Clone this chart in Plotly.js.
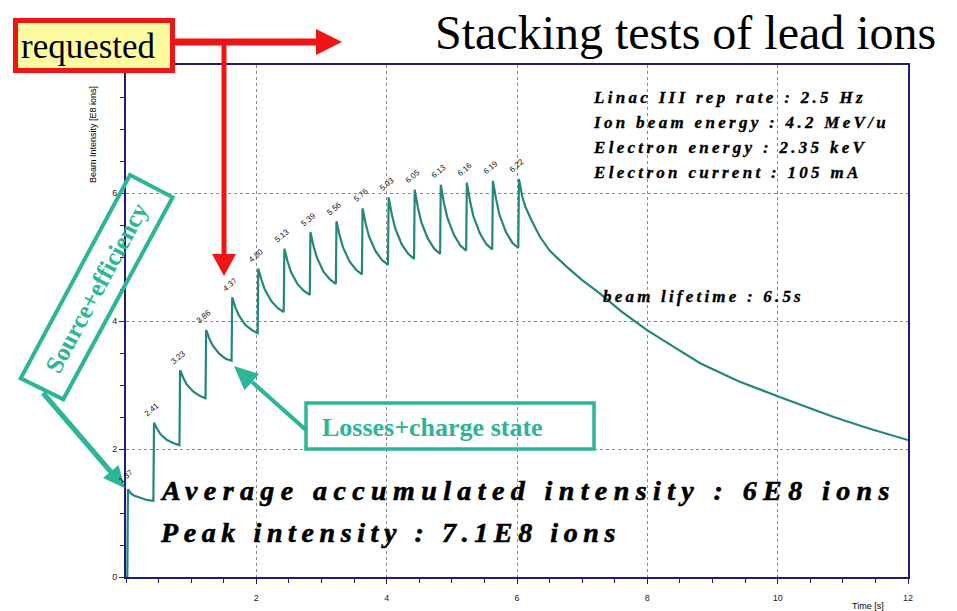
<!DOCTYPE html>
<html>
<head>
<meta charset="utf-8">
<script src="https://cdn.plot.ly/plotly-3.0.1.min.js"></script>
<style>html,body{margin:0;padding:0;background:#fff;}#chart{width:957px;height:611px;}</style>
</head>
<body>
<div id="chart"></div>
<script>
// ---- data ----
const timeS = [0, 0.02,
  0.03,0.08,0.13,0.23,0.33,0.42,
  0.43,0.48,0.53,0.63,0.73,0.82,
  0.83,0.88,0.93,1.03,1.13,1.22,
  1.23,1.28,1.33,1.43,1.53,1.62,
  1.63,1.68,1.73,1.83,1.93,2.02,
  2.03,2.08,2.13,2.23,2.33,2.42,
  2.43,2.48,2.53,2.63,2.73,2.82,
  2.83,2.88,2.93,3.03,3.13,3.22,
  3.23,3.28,3.33,3.43,3.53,3.62,
  3.63,3.68,3.73,3.83,3.93,4.02,
  4.03,4.08,4.13,4.23,4.33,4.42,
  4.43,4.48,4.53,4.63,4.73,4.82,
  4.83,4.88,4.93,5.03,5.13,5.22,
  5.23,5.28,5.33,5.43,5.53,5.62,
  5.63,5.68,5.73,5.83,5.93,6.02,
  6.03,6.08,6.13,6.23,6.35,6.5,6.76,7.0,7.27,7.6,7.99,8.4,8.81,9.4,10.01,10.86,11.4,12.0];
const intensityE8 = [0, 0,
  1.37,1.30,1.27,1.23,1.20,1.19,
  2.41,2.31,2.23,2.14,2.09,2.06,
  3.23,3.11,3.01,2.90,2.83,2.79,
  3.86,3.72,3.62,3.49,3.41,3.38,
  4.37,4.21,4.09,3.94,3.86,3.81,
  4.82,4.64,4.49,4.31,4.20,4.14,
  5.13,4.93,4.77,4.58,4.47,4.41,
  5.39,5.16,4.99,4.77,4.65,4.58,
  5.56,5.33,5.15,4.93,4.80,4.73,
  5.76,5.51,5.32,5.09,4.95,4.88,
  5.93,5.66,5.45,5.20,5.05,4.97,
  6.05,5.77,5.55,5.29,5.13,5.05,
  6.13,5.84,5.62,5.35,5.18,5.10,
  6.16,5.87,5.64,5.37,5.20,5.12,
  6.19,5.90,5.66,5.39,5.22,5.14,
  6.22,5.95,5.78,5.56,5.32,5.10,4.85,4.64,4.43,4.15,3.86,3.60,3.34,3.06,2.82,2.50,2.32,2.14];
const peakTimes  = [0.03,0.43,0.83,1.23,1.63,2.03,2.43,2.83,3.23,3.63,4.03,4.43,4.83,5.23,5.63,6.03];
const peakValues = [1.37,2.41,3.23,3.86,4.37,4.82,5.13,5.39,5.56,5.76,5.93,6.05,6.13,6.16,6.19,6.22];
const peakLabels = ['1.37','2.41','3.23','3.86','4.37','4.80','5.13','5.39','5.56','5.76','5.93','6.05','6.13','6.16','6.19','6.22'];
const xTickVals = [2,4,6,8,10,12];
const yTickVals = [0,2,4,6];
const infoLines = ['Linac III rep rate : 2.5 Hz','Ion beam energy : 4.2 MeV/u','Electron energy : 2.35 keV','Electron current : 105 mA'];

// ---- layout helpers ----
const ML=126, MR=49, MT=65, MB=34, W=957, H=611;
const PW=W-ML-MR, PH=H-MT-MB;
const px = x => (x-ML)/PW;
const py = y => (H-MB-y)/PH;
const NAVY='#1e1e7a', TEAL='#2cb596', RED='#f01414', LINE='#23877d';
const SERIF='Liberation Serif, Times New Roman, serif';
const SANS='Liberation Sans, Arial, sans-serif';

function poly(pts, color, lw, fill){
  let d = pts.map((p,i)=>(i?'L':'M')+px(p[0])+','+py(p[1])).join(' ')+' Z';
  return {type:'path', xref:'paper', yref:'paper', path:d, line:{color:color,width:lw||0}, fillcolor:fill||'rgba(0,0,0,0)', layer:'above'};
}
function seg(a,b,color,w){
  return {type:'line', xref:'paper', yref:'paper', x0:px(a[0]), y0:py(a[1]), x1:px(b[0]), y1:py(b[1]), line:{color:color,width:w}, layer:'above'};
}
function txt(x,y,text,font,opts){
  return Object.assign({xref:'paper', yref:'paper', x:px(x), y:py(y), text:text, showarrow:false, font:font, xanchor:'left', yanchor:'middle', align:'left'}, opts||{});
}

const shapes = [
  {type:'rect', xref:'paper', yref:'paper', x0:px(15.5), x1:px(172.5), y0:py(20.5), y1:py(70.5), fillcolor:'#fdfba0', line:{color:RED,width:5}, layer:'above'},
  seg([175,42],[318,42],RED,7),
  poly([[316,29],[342,42],[316,55]],RED,0,RED),
  seg([224,42],[224,256],RED,5),
  poly([[212,254],[236,254],[224,276]],RED,0,RED),
  poly([[130,175],[172.7,197.3],[63.3,399.3],[20.7,378.3]],TEAL,4),
  seg([43,393],[111,472],TEAL,5),
  poly([[125,488.3],[103,478],[118.5,465]],TEAL,0,TEAL),
  {type:'rect', xref:'paper', yref:'paper', x0:px(306), x1:px(594), y0:py(403), y1:py(449), line:{color:TEAL,width:3.5}, layer:'above'},
  seg([306,430],[252,382],TEAL,4),
  poly([[234,366],[259.2,373.9],[244.4,390.3]],TEAL,0,TEAL)
];

const biFont = size => ({family:SERIF, size:size, color:'#000', weight:'bold', style:'italic'});
const spacing = {}; // annotation index -> [letter spacing px, stroke px]
const annotations = [
  txt(685,32,'Stacking tests of lead ions',{family:SERIF,size:48,color:'#000'},{xanchor:'center',align:'center'}),
  txt(88,46,'requested',{family:SERIF,size:35,color:'#000'},{xanchor:'center',align:'center'}),
  txt(96.7,287.5,'Source+efficiency',{family:SERIF,size:25,color:TEAL,weight:'bold'},{xanchor:'center',align:'center',textangle:-61.7}),
  txt(320,427,'Losses+charge state',{family:SERIF,size:26,color:TEAL,weight:'bold'}),
  txt(93,135,'Beam Intensity [E8 ions]',{family:SANS,size:9,color:'#000'},{xanchor:'center',align:'center',textangle:-90}),
  txt(868,606,'Time [s]',{family:SANS,size:9,color:'#000'},{xanchor:'center',align:'center'})
];
function addSpaced(a, ls, sw){ spacing[annotations.length] = [ls, sw]; annotations.push(a); }
addSpaced(txt(601,296,'beam lifetime : 6.5s',biFont(17)), 3.2, 0.35);
addSpaced(txt(158,490,'Average accumulated intensity : 6E8 ions',biFont(28)), 6.4, 0.6);
addSpaced(txt(158,532,'Peak intensity : 7.1E8 ions',biFont(28)), 5.6, 0.6);
infoLines.forEach((s,i)=>addSpaced(txt(591,97+25*i,s,biFont(17)), 3.3, 0.35));
peakLabels.forEach((s,i)=>annotations.push({xref:'x', yref:'y', x:peakTimes[i], y:peakValues[i], text:s, showarrow:false,
  textangle:-40, xshift:-2, yshift:13, font:{family:SANS,size:8,color:'#111'}}));

const trace = {x:timeS, y:intensityE8, type:'scatter', mode:'lines', line:{color:LINE,width:2.2}, hoverinfo:'skip'};

const axisCommon = {linecolor:NAVY, linewidth:2, mirror:true, showline:true, zeroline:false,
  ticks:'outside', ticklen:5, tickwidth:1, tickcolor:NAVY,
  gridcolor:'#8a8a8a', griddash:'dot', gridwidth:1,
  tickfont:{family:SANS,size:9,color:'#222'}};

const layout = {
  width:W, height:H, margin:{l:ML,r:MR,t:MT,b:MB,pad:0},
  paper_bgcolor:'#fff', plot_bgcolor:'#fff', showlegend:false,
  xaxis:Object.assign({}, axisCommon, {range:[0,12], tickmode:'array', tickvals:xTickVals, ticktext:xTickVals.map(String), ticklabelstandoff:6,
    minor:{tickmode:'linear', tick0:0, dtick:0.5, ticks:'outside', ticklen:4, tickcolor:NAVY, showgrid:false}}),
  yaxis:Object.assign({}, axisCommon, {range:[0,8], tickmode:'array', tickvals:yTickVals, ticktext:yTickVals.map(String),
    minor:{tickmode:'linear', tick0:0, dtick:0.5, ticks:'outside', ticklen:4, tickcolor:NAVY, showgrid:false}}),
  shapes:shapes, annotations:annotations
};

Plotly.newPlot('chart',[trace],layout,{staticPlot:true}).then(gd=>{
  gd.querySelectorAll('g.annotation').forEach(g=>{
    const idx = +g.getAttribute('data-index');
    if(spacing[idx]!==undefined){
      const t = g.querySelector('text.annotation-text');
      if(t){
        t.style.letterSpacing = spacing[idx][0]+'px';
        t.setAttribute('text-anchor','start');
        t.style.stroke = '#000';
        t.style.strokeWidth = spacing[idx][1]+'px';
      }
    }
  });
});
</script>
</body>
</html>
